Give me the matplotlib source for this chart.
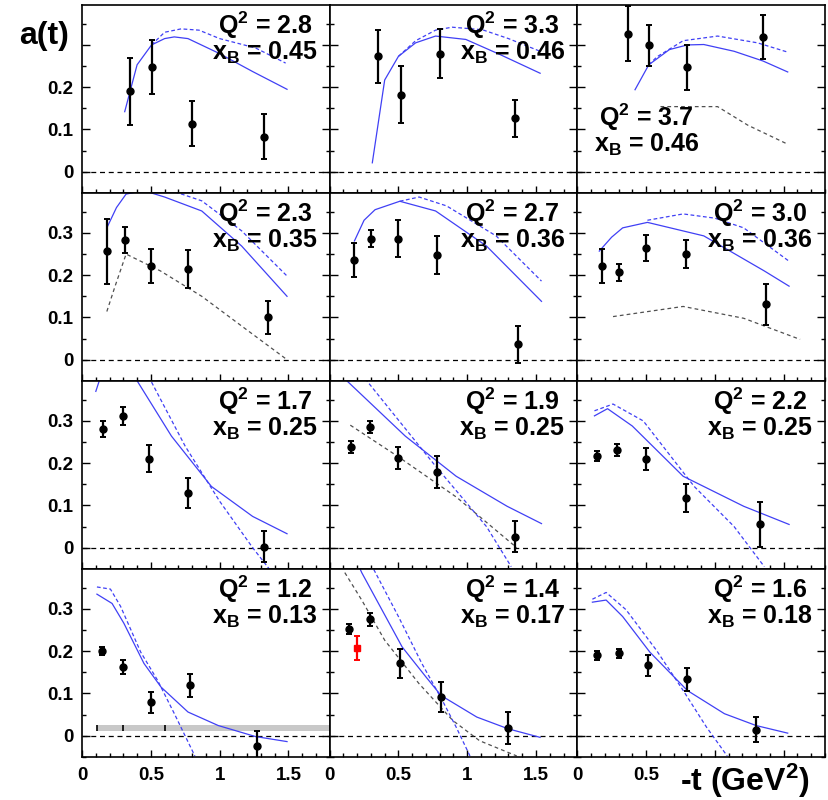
import numpy as np
import matplotlib
matplotlib.use('Agg')
import matplotlib.pyplot as plt
from matplotlib.ticker import MultipleLocator

plt.rcParams['font.family'] = ['Liberation Sans', 'DejaVu Sans']
plt.rcParams['font.weight'] = 'bold'
plt.rcParams['mathtext.fontset'] = 'custom'
plt.rcParams['mathtext.rm'] = 'Liberation Sans:bold'
plt.rcParams['mathtext.it'] = 'Liberation Sans:bold'
plt.rcParams['mathtext.bf'] = 'Liberation Sans:bold'

# panels in reading order (rows top -> bottom, columns left -> right)
q2_labels = ['2.8', '3.3', '3.7', '2.3', '2.7', '3.0', '1.7', '1.9', '2.2', '1.2', '1.4', '1.6']
xb_labels = ['0.45', '0.46', '0.46', '0.35', '0.36', '0.36', '0.25', '0.25', '0.25', '0.13', '0.17', '0.18']

# measured points: -t, a(t), error
pt_t = [[0.35, 0.505, 0.80, 1.32],
        [0.355, 0.515, 0.80, 1.35],
        [0.37, 0.52, 0.80, 1.35],
        [0.18, 0.31, 0.50, 0.77, 1.35],
        [0.18, 0.30, 0.50, 0.78, 1.37],
        [0.18, 0.30, 0.50, 0.79, 1.37],
        [0.155, 0.295, 0.49, 0.77, 1.32],
        [0.155, 0.29, 0.50, 0.78, 1.35],
        [0.147, 0.287, 0.50, 0.79, 1.33],
        [0.145, 0.297, 0.50, 0.784, 1.27],
        [0.14, 0.29, 0.51, 0.81, 1.30],
        [0.142, 0.30, 0.515, 0.80, 1.30]]
pt_a = [[0.19, 0.248, 0.114, 0.083],
        [0.273, 0.182, 0.279, 0.126],
        [0.327, 0.299, 0.247, 0.318],
        [0.257, 0.283, 0.221, 0.214, 0.10],
        [0.236, 0.286, 0.286, 0.248, 0.036],
        [0.221, 0.207, 0.264, 0.25, 0.131],
        [0.281, 0.312, 0.21, 0.129, 0.002],
        [0.238, 0.286, 0.212, 0.179, 0.026],
        [0.217, 0.231, 0.21, 0.117, 0.055],
        [0.20, 0.163, 0.079, 0.119, -0.025],
        [0.252, 0.275, 0.171, 0.091, 0.018],
        [0.19, 0.195, 0.167, 0.133, 0.014]]
pt_e = [[0.08, 0.063, 0.053, 0.053],
        [0.063, 0.067, 0.058, 0.043],
        [0.065, 0.048, 0.053, 0.052],
        [0.077, 0.03, 0.04, 0.045, 0.04],
        [0.04, 0.02, 0.044, 0.045, 0.043],
        [0.04, 0.02, 0.03, 0.033, 0.048],
        [0.02, 0.022, 0.032, 0.036, 0.037],
        [0.015, 0.015, 0.026, 0.038, 0.037],
        [0.013, 0.014, 0.026, 0.033, 0.053],
        [0.01, 0.016, 0.025, 0.028, 0.035],
        [0.012, 0.015, 0.035, 0.036, 0.038],
        [0.01, 0.01, 0.025, 0.028, 0.03]]

# extra (red) point in the Q2=1.4 panel
red_t = [0.20]
red_a = [0.208]
red_e = [0.029]

# model curves: blue solid
solid_t = [[0.31, 0.40, 0.505, 0.60, 0.67, 0.77, 0.99, 1.24, 1.49],
           [0.31, 0.40, 0.50, 0.625, 0.77, 0.99, 1.24, 1.53],
           [0.42, 0.52, 0.67, 0.80, 0.92, 1.14, 1.35, 1.53],
           [0.18, 0.25, 0.32, 0.45, 0.60, 0.87, 1.16, 1.49],
           [0.18, 0.25, 0.33, 0.51, 0.77, 1.14, 1.54],
           [0.16, 0.25, 0.33, 0.51, 0.92, 1.36, 1.54],
           [0.10, 0.15, 0.30, 0.40, 0.65, 0.94, 1.24, 1.49],
           [0.10, 0.125, 0.55, 0.92, 1.29, 1.54],
           [0.125, 0.22, 0.40, 0.77, 1.21, 1.54],
           [0.108, 0.218, 0.304, 0.45, 0.574, 0.77, 0.99, 1.26, 1.49],
           [0.20, 0.233, 0.38, 0.527, 0.70, 0.81, 1.07, 1.30, 1.53],
           [0.11, 0.21, 0.33, 0.527, 0.80, 1.07, 1.30, 1.53]]
solid_a = [[0.142, 0.253, 0.30, 0.315, 0.319, 0.315, 0.281, 0.237, 0.195],
           [0.021, 0.217, 0.273, 0.305, 0.321, 0.313, 0.277, 0.233],
           [0.194, 0.253, 0.289, 0.30, 0.301, 0.285, 0.262, 0.236],
           [0.312, 0.36, 0.392, 0.40, 0.385, 0.352, 0.269, 0.15],
           [0.281, 0.33, 0.355, 0.375, 0.352, 0.269, 0.138],
           [0.257, 0.29, 0.312, 0.325, 0.293, 0.21, 0.174],
           [0.37, 0.42, 0.45, 0.395, 0.264, 0.145, 0.074, 0.033],
           [0.41, 0.395, 0.264, 0.169, 0.098, 0.057],
           [0.312, 0.329, 0.288, 0.169, 0.098, 0.055],
           [0.335, 0.313, 0.266, 0.171, 0.115, 0.056, 0.024, -0.002, -0.014],
           [0.41, 0.386, 0.298, 0.21, 0.139, 0.095, 0.044, 0.016, -0.004],
           [0.316, 0.321, 0.282, 0.198, 0.107, 0.052, 0.024, 0.006]]

# model curves: blue dashed
dashed_t = [[0.505, 0.60, 0.72, 0.85, 1.0, 1.26, 1.48],
            [0.50, 0.625, 0.77, 0.89, 1.11, 1.30, 1.53],
            [0.52, 0.58, 0.77, 1.02, 1.31, 1.53],
            [0.45, 0.65, 0.87, 1.16, 1.49],
            [0.51, 0.65, 0.85, 1.21, 1.54],
            [0.51, 0.77, 1.0, 1.21, 1.54],
            [0.30, 0.50, 0.75, 1.0, 1.24, 1.36],
            [0.20, 0.27, 0.77, 1.14, 1.32],
            [0.125, 0.26, 0.48, 0.85, 1.14, 1.36],
            [0.108, 0.206, 0.28, 0.426, 0.549, 0.671, 0.82],
            [0.28, 0.31, 0.50, 0.67, 0.82, 0.92, 1.02],
            [0.11, 0.21, 0.355, 0.576, 0.77, 0.94, 1.09]]
dashed_a = [[0.30, 0.33, 0.338, 0.335, 0.315, 0.293, 0.257],
            [0.273, 0.31, 0.335, 0.342, 0.336, 0.315, 0.285],
            [0.253, 0.272, 0.31, 0.321, 0.305, 0.283],
            [0.40, 0.40, 0.376, 0.305, 0.198],
            [0.375, 0.385, 0.364, 0.293, 0.186],
            [0.33, 0.345, 0.335, 0.312, 0.233],
            [0.45, 0.395, 0.24, 0.11, 0.0, -0.05],
            [0.44, 0.395, 0.193, 0.05, -0.045],
            [0.324, 0.340, 0.30, 0.145, 0.05, -0.045],
            [0.352, 0.347, 0.306, 0.198, 0.131, 0.052, -0.048],
            [0.42, 0.40, 0.282, 0.171, 0.083, 0.02, -0.048],
            [0.323, 0.339, 0.298, 0.202, 0.107, 0.02, -0.048]]

# model curves: grey dashed (only some panels)
grey_t = [[], [], [0.605, 1.02, 1.24, 1.53],
          [0.18, 0.24, 0.32, 0.57, 0.87, 1.20, 1.49], [], [0.26, 0.77, 1.21, 1.62],
          [], [0.15, 0.50, 0.92, 1.36], [],
          [], [0.11, 0.233, 0.40, 0.65, 0.895, 1.09, 1.36], []]
grey_a = [[], [], [0.154, 0.154, 0.110, 0.065],
          [0.114, 0.174, 0.25, 0.21, 0.15, 0.07, 0.0], [], [0.102, 0.126, 0.098, 0.048],
          [], [0.29, 0.215, 0.12, 0.0], [],
          [], [0.386, 0.321, 0.226, 0.123, 0.036, -0.012, -0.048], []]

# systematic band in the Q2=1.2 panel
band_t = [0.108, 1.8]
band_lo = 0.012
band_hi = 0.026
band_ticks = [0.108, 0.30, 0.60]

blue = '#4040f5'

fig, axes = plt.subplots(4, 3, figsize=(8.29, 8.0), dpi=100)
fig.subplots_adjust(left=0.099, right=0.995, top=0.994, bottom=0.054, wspace=0, hspace=0)

for i, ax in enumerate(axes.flat):
    r, c = divmod(i, 3)
    ax.set_xlim(0, 1.8)
    ax.set_ylim(-0.05, 0.395)
    ax.axhline(0, color='k', lw=0.9, ls=(0, (4, 3)), zorder=1)
    if grey_t[i]:
        ax.plot(grey_t[i], grey_a[i], color='#505050', lw=0.9, ls=(0, (3, 2.5)), zorder=2)
    ax.plot(dashed_t[i], dashed_a[i], color=blue, lw=0.9, ls=(0, (3, 2)), zorder=2)
    ax.plot(solid_t[i], solid_a[i], color=blue, lw=0.9, zorder=2)
    if i == 9:
        ax.fill_between(band_t, band_lo, band_hi, color='#c8c8c8', lw=0, zorder=1)
        ax.vlines(band_ticks, band_lo, band_hi, color='k', lw=1.2, zorder=2)
    if i == 10:
        ax.errorbar(red_t, red_a, yerr=red_e, fmt='s', color='red', ms=4.5,
                    elinewidth=1.6, capsize=2, capthick=1.4, zorder=3)
    ax.errorbar(pt_t[i], pt_a[i], yerr=pt_e[i], fmt='o', color='k', ms=5,
                elinewidth=1.6, capsize=2, capthick=1.4, zorder=3)

    # Q2 / xB label, two lines in one text (baseline = last line)
    if i == 2:
        tx, ty = 0.28, 0.218
    else:
        tx, ty = 0.738, 0.708
    ax.text(tx, ty, 'Q$^2$ = ' + q2_labels[i] + '\nx$_\\mathrm{B}$ = ' + xb_labels[i],
            transform=ax.transAxes, ha='center', va='baseline', multialignment='center',
            linespacing=0.92, fontsize=18, zorder=5)

    ax.set_xticks([0, 0.5, 1, 1.5])
    ax.xaxis.set_minor_locator(MultipleLocator(0.1))
    ax.set_yticks([0, 0.1, 0.2, 0.3])
    ax.yaxis.set_minor_locator(MultipleLocator(0.05))
    if r == 3:
        if c == 2:
            ax.set_xticklabels(['0', '0.5', '', ''])
        else:
            ax.set_xticklabels(['0', '0.5', '1', '1.5'])
    else:
        ax.set_xticklabels([])
    if c == 0:
        if r == 0:
            ax.set_yticklabels(['0', '0.1', '0.2', ''])
        else:
            ax.set_yticklabels(['0', '0.1', '0.2', '0.3'])
    else:
        ax.set_yticklabels([])
    ax.tick_params(which='both', direction='in', top=False, right=True, width=1, labelsize=13.5)
    ax.tick_params(axis='x', which='major', length=5, pad=7)
    ax.tick_params(axis='y', which='major', length=6, pad=6)
    ax.tick_params(which='minor', length=3)
    for s in ax.spines.values():
        s.set_linewidth(1.2)

fig.text(44 / 829, 1 - 36 / 800, 'a(t)', fontsize=23, ha='center', va='center')
fig.text(745 / 829, 1 - 781 / 800, '-t (GeV$^2$)', fontsize=23, ha='center', va='center')

fig.savefig('out.png', dpi=100)
